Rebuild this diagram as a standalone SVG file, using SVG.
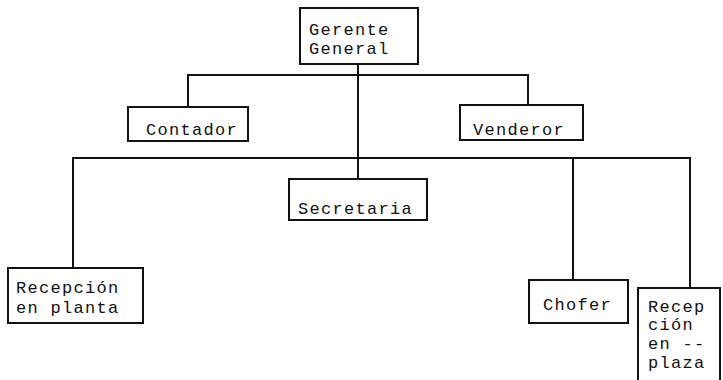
<svg xmlns="http://www.w3.org/2000/svg" width="723" height="380" viewBox="0 0 723 380">
<style>
.box{fill:#fff;stroke:#111;stroke-width:2}
.t{font-family:"Liberation Mono","DejaVu Sans Mono",monospace;font-size:17px;letter-spacing:1.3px;fill:#111}
.c{fill:none;stroke:#111;stroke-width:2}
</style>
<rect width="723" height="380" fill="#fff"/>
<g id="connectors">
<path class="c" d="M358,64 V179"/>
<path class="c" d="M188,107 V75 H528 V105"/>
<path class="c" d="M73,268 V158 H690 V288"/>
<path class="c" d="M573,158 V280"/>
</g>
<g id="gerente">
<rect class="box" x="300" y="8" width="118" height="56"/>
<text class="t" x="309" y="35">Gerente</text>
<text class="t" x="309" y="54">General</text>
</g>
<g id="contador">
<rect class="box" x="128" y="107" width="120" height="34"/>
<text class="t" x="146" y="135">Contador</text>
</g>
<g id="vendedor">
<rect class="box" x="460" y="105" width="123" height="35"/>
<text class="t" x="473" y="135">Venderor</text>
</g>
<g id="secretaria">
<rect class="box" x="289" y="179" width="138" height="41"/>
<text class="t" x="298" y="214">Secretaria</text>
</g>
<g id="recepcion-planta">
<rect class="box" x="8" y="268" width="135" height="55"/>
<text class="t" x="16" y="293">Recepción</text>
<text class="t" x="16" y="313">en planta</text>
</g>
<g id="chofer">
<rect class="box" x="529" y="280" width="99" height="43"/>
<text class="t" x="543" y="310">Chofer</text>
</g>
<g id="recepcion-plaza">
<rect class="box" x="638" y="288" width="82" height="100"/>
<text class="t" x="648" y="312">Recep</text>
<text class="t" x="648" y="330">ción</text>
<text class="t" x="648" y="349">en --</text>
<text class="t" x="648" y="368">plaza</text>
</g>
</svg>
